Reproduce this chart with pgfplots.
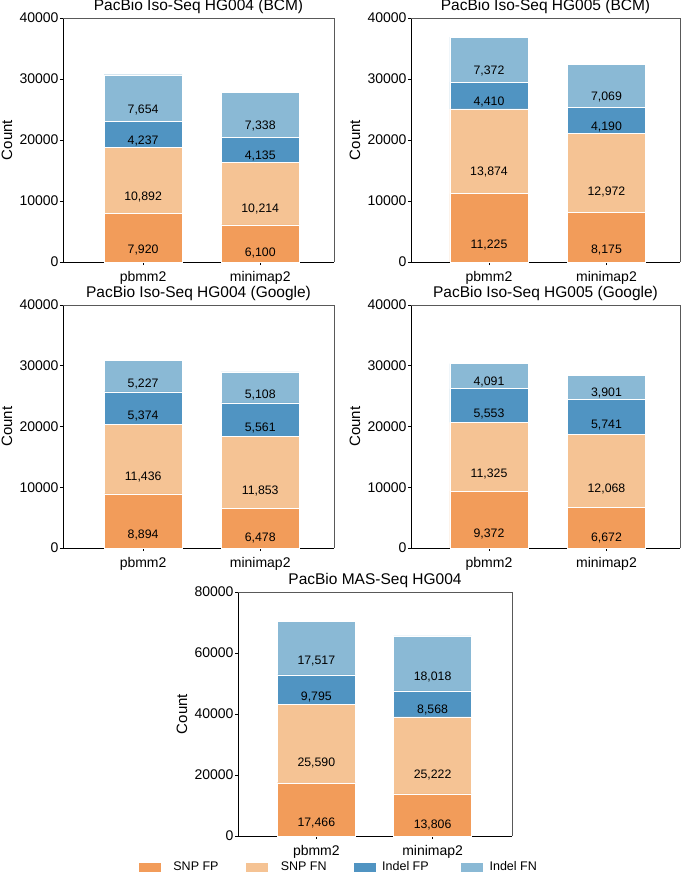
\documentclass[border=0pt]{standalone}
\usepackage{fontspec}
\setmainfont{Liberation Sans}
\usepackage{pgfplots}
\pgfplotsset{compat=1.18}

\definecolor{snpfp}{RGB}{242,156,90}
\definecolor{snpfn}{RGB}{245,195,148}
\definecolor{indelfp}{RGB}{80,148,194}
\definecolor{indelfn}{RGB}{138,185,213}

\pgfplotsset{
  panel/.style={
    scale only axis, width=271pt, height=244pt,
    ybar stacked, bar width=0.667,
    xmin=-0.684, xmax=1.63,
    xtick={0,1}, xticklabels={pbmm2,minimap2},
    ymin=0, ymax=40000, ytick={0,10000,...,40000},
    scaled y ticks=false,
    axis lines*=left,
    axis line style={black, line width=1pt},
    tick style={black, line width=0.8pt},
    major tick length=3pt,
    tick align=outside,
    /pgf/number format/assume math mode=true,
    /pgf/number format/1000 sep={},
    tick label style={font=\fontsize{14}{16}\selectfont},
    yticklabel style={xshift=2pt},
    xticklabel style={yshift=-2.5pt},
    ylabel=Count,
    every axis y label/.style={at={(axis description cs:0,0.5)}, xshift=-56pt,
      rotate=90, anchor=center, font=\fontsize{15}{18}\selectfont},
    every axis title shift=0pt,
    title style={at={(axis description cs:0.5,1)}, anchor=base, yshift=7.5pt,
      font=\fontsize{15.5}{18}\selectfont},
    point meta=rawy,
    visualization depends on=rawy\as\rawy,
    nodes near coords,
    nodes near coords style={font=\fontsize{12.3}{14}\selectfont, text=black,
      anchor=center, /pgf/number format/fixed, /pgf/number format/precision=0,
      /pgf/number format/1000 sep={,},
      shift={(axis direction cs:0,-\rawy/4)}},
    after end axis/.code={
      \draw[black!65, line width=0.8pt] (rel axis cs:0,1) -- (rel axis cs:1,1) -- (rel axis cs:1,0);
    },
    clip=false,
  },
  bar/.style={fill=#1, draw=white, line width=0.4pt},
}

\begin{document}
\begin{tikzpicture}
\path[use as bounding box] (0,0) rectangle (685pt,-873pt);

% row 1
\begin{axis}[panel, at={(63pt,-262pt)}, anchor=south west, title={PacBio Iso-Seq HG004 (BCM)}]
  \addplot[bar=snpfp] coordinates {(0,7920) (1,6100)};
  \addplot[bar=snpfn] coordinates {(0,10892) (1,10214)};
  \addplot[bar=indelfp] coordinates {(0,4237) (1,4135)};
  \addplot[bar=indelfn] coordinates {(0,7654) (1,7338)};
\end{axis}

\begin{axis}[panel, width=269pt, xmin=-0.664, xmax=1.626, at={(411pt,-262pt)}, anchor=south west, title={PacBio Iso-Seq HG005 (BCM)}]
  \addplot[bar=snpfp] coordinates {(0,11225) (1,8175)};
  \addplot[bar=snpfn] coordinates {(0,13874) (1,12972)};
  \addplot[bar=indelfp] coordinates {(0,4410) (1,4190)};
  \addplot[bar=indelfn] coordinates {(0,7372) (1,7069)};
\end{axis}

% row 2
\begin{axis}[panel, height=243pt, at={(63pt,-548pt)}, anchor=south west, title={PacBio Iso-Seq HG004 (Google)}]
  \addplot[bar=snpfp] coordinates {(0,8894) (1,6478)};
  \addplot[bar=snpfn] coordinates {(0,11436) (1,11853)};
  \addplot[bar=indelfp] coordinates {(0,5374) (1,5561)};
  \addplot[bar=indelfn] coordinates {(0,5227) (1,5108)};
\end{axis}

\begin{axis}[panel, height=243pt, width=269pt, xmin=-0.664, xmax=1.626, at={(411pt,-548pt)}, anchor=south west, title={PacBio Iso-Seq HG005 (Google)}]
  \addplot[bar=snpfp] coordinates {(0,9372) (1,6672)};
  \addplot[bar=snpfn] coordinates {(0,11325) (1,12068)};
  \addplot[bar=indelfp] coordinates {(0,5553) (1,5741)};
  \addplot[bar=indelfn] coordinates {(0,4091) (1,3901)};
\end{axis}

% row 3
\begin{axis}[panel, width=274pt, xmin=-0.674, xmax=1.683, bar width=0.67,
    ymax=80000, ytick={0,20000,...,80000},
    at={(238pt,-836pt)}, anchor=south west, title={PacBio MAS-Seq HG004},
    legend columns=4,
    legend style={at={(axis description cs:-0.365,-0.1277)}, anchor=west,
      draw=none, inner sep=0pt, outer sep=0pt, nodes={inner sep=0pt},
      font=\fontsize{12.5}{15}\selectfont,
      /tikz/every odd column/.append style={column sep=6pt}},
    legend image code/.code={\fill[#1] (0pt,-5pt) rectangle (23pt,5pt);},
  ]
  \addplot[bar=snpfp] coordinates {(0,17466) (1,13806)};
  \addplot[bar=snpfn] coordinates {(0,25590) (1,25222)};
  \addplot[bar=indelfp] coordinates {(0,9795) (1,8568)};
  \addplot[bar=indelfn] coordinates {(0,17517) (1,18018)};
  \legend{\makebox[78pt][l]{\hspace{6pt}SNP FP},\makebox[78pt][l]{\hspace{6pt}SNP FN},
    \makebox[78pt][l]{Indel FP},\makebox[78pt][l]{Indel FN}}
\end{axis}
\end{tikzpicture}
\end{document}
